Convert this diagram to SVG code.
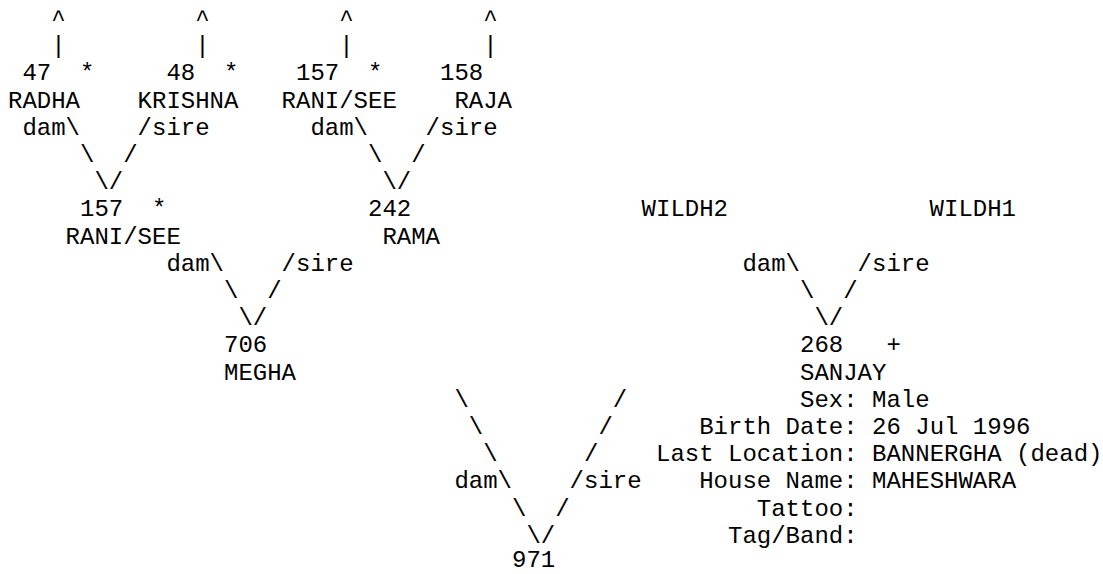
<svg xmlns="http://www.w3.org/2000/svg" width="1103" height="574" viewBox="0 0 1103 574">
<style>
text{font-family:"Liberation Mono","Courier New",monospace;font-size:24px;fill:#000;white-space:pre}
</style>
<rect x="0" y="0" width="1103" height="574" fill="#fff"/>
<g id="connectors">
  <text x="51.2" y="26">^</text><text x="51.2" y="53.2">|</text>
  <text x="195.2" y="26">^</text><text x="195.2" y="53.2">|</text>
  <text x="339.2" y="26">^</text><text x="339.2" y="53.2">|</text>
  <text x="483.2" y="26">^</text><text x="483.2" y="53.2">|</text>
  <text x="22.4" y="134.8">dam\</text><text x="137.6" y="134.8">/sire</text>
  <text x="80" y="162">\</text><text x="123.2" y="162">/</text>
  <text x="94.4" y="189.2">\/</text>
  <text x="310.4" y="134.8">dam\</text><text x="425.6" y="134.8">/sire</text>
  <text x="368" y="162">\</text><text x="411.2" y="162">/</text>
  <text x="382.4" y="189.2">\/</text>
  <text x="166.4" y="270.8">dam\</text><text x="281.6" y="270.8">/sire</text>
  <text x="224" y="298">\</text><text x="267.2" y="298">/</text>
  <text x="238.4" y="325.2">\/</text>
  <text x="742.4" y="270.8">dam\</text><text x="857.6" y="270.8">/sire</text>
  <text x="800" y="298">\</text><text x="843.2" y="298">/</text>
  <text x="814.4" y="325.2">\/</text>
  <text x="454.4" y="406.8">\</text><text x="612.8" y="406.8">/</text>
  <text x="468.8" y="434">\</text><text x="598.4" y="434">/</text>
  <text x="483.2" y="461.2">\</text><text x="584" y="461.2">/</text>
  <text x="454.4" y="488.4">dam\</text><text x="569.6" y="488.4">/sire</text>
  <text x="512" y="515.6">\</text><text x="555.2" y="515.6">/</text>
  <text x="526.4" y="542.8">\/</text>
</g>
<g id="n47"><text x="22.4" y="80.4">47</text><text x="80" y="80.4">*</text><text x="8" y="107.6">RADHA</text></g>
<g id="n48"><text x="166.4" y="80.4">48</text><text x="224" y="80.4">*</text><text x="137.6" y="107.6">KRISHNA</text></g>
<g id="n157a"><text x="296" y="80.4">157</text><text x="368" y="80.4">*</text><text x="281.6" y="107.6">RANI/SEE</text></g>
<g id="n158"><text x="440" y="80.4">158</text><text x="454.4" y="107.6">RAJA</text></g>
<g id="n157b"><text x="80" y="216.4">157</text><text x="152" y="216.4">*</text><text x="65.6" y="243.6">RANI/SEE</text></g>
<g id="n242"><text x="368" y="216.4">242</text><text x="382.4" y="243.6">RAMA</text></g>
<g id="wildh2"><text x="641.6" y="216.4">WILDH2</text></g>
<g id="wildh1"><text x="929.6" y="216.4">WILDH1</text></g>
<g id="n706"><text x="224" y="352.4">706</text><text x="224" y="379.6">MEGHA</text></g>
<g id="n268">
  <text x="800" y="352.4">268</text><text x="886.4" y="352.4">+</text>
  <text x="800" y="379.6">SANJAY</text>
  <text x="800" y="406.8">Sex: Male</text>
  <text x="699.2" y="434">Birth Date: 26 Jul 1996</text>
  <text x="656" y="461.2">Last Location: BANNERGHA (dead)</text>
  <text x="699.2" y="488.4">House Name: MAHESHWARA</text>
  <text x="756.8" y="515.6">Tattoo:</text>
  <text x="728" y="542.8">Tag/Band:</text>
</g>
<g id="n971"><text x="512" y="566.5">971</text></g>
</svg>
